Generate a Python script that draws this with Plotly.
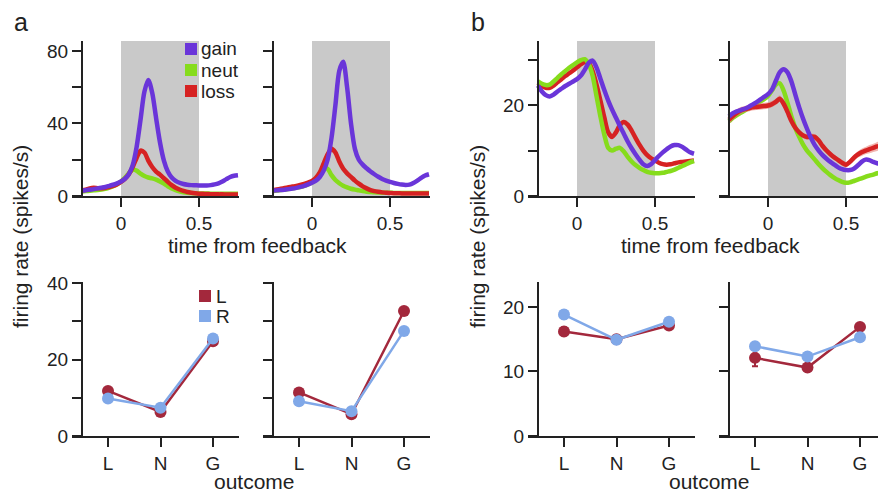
import plotly.graph_objects as go

FONT = "Liberation Sans, Arial, Helvetica, sans-serif"
INK = "#222222"

# ---------------- data ----------------
time_s = [-0.25, -0.225, -0.2, -0.175, -0.15, -0.125, -0.1, -0.075, -0.05, -0.025,
          0.0, 0.025, 0.05, 0.075, 0.1, 0.125, 0.15, 0.175, 0.2, 0.225,
          0.25, 0.275, 0.3, 0.325, 0.35, 0.375, 0.4, 0.425, 0.45, 0.475,
          0.5, 0.525, 0.55, 0.575, 0.6, 0.625, 0.65, 0.675, 0.7, 0.725, 0.75]

# panel a, neuron 1
gain_a1 = [3.0, 3.2, 3.5, 3.8, 4.2, 4.6, 5.0, 5.6, 6.2, 7.0,
           8.0, 9.5, 12.0, 17.0, 27.0, 42.0, 57.5, 64.0, 57.0, 43.0,
           29.5, 19.5, 13.5, 10.2, 8.4, 7.3, 6.6, 6.2, 6.0, 5.9,
           5.8, 5.8, 5.8, 6.0, 6.4, 7.0, 8.0, 9.3, 10.5, 11.2, 11.5]
neut_a1 = [2.5, 2.7, 2.9, 3.1, 3.3, 3.6, 4.0, 4.6, 5.4, 6.5,
           8.0, 10.0, 12.5, 14.5, 14.0, 12.3, 11.0, 10.2, 9.7, 9.0,
           8.0, 6.8, 5.4, 4.2, 3.3, 2.6, 2.1, 1.8, 1.6, 1.5,
           1.4, 1.4, 1.4, 1.3, 1.3, 1.3, 1.3, 1.3, 1.3, 1.3, 1.3]
loss_a1 = [3.0, 3.5, 4.2, 4.5, 4.3, 4.3, 4.6, 5.0, 5.6, 6.5,
           7.8, 9.5, 12.0, 16.0, 21.0, 25.0, 24.0, 19.5, 16.0, 13.5,
           11.8, 9.8, 7.8, 6.0, 4.6, 3.6, 2.8, 2.2, 1.8, 1.5,
           1.3, 1.2, 1.1, 1.0, 1.0, 0.9, 0.9, 0.8, 0.8, 0.8, 0.8]

# panel a, neuron 2
gain_a2 = [3.0, 3.1, 3.3, 3.5, 3.8, 4.1, 4.5, 5.0, 5.6, 6.4,
           7.3, 8.5, 10.5, 14.0, 20.0, 32.0, 50.0, 69.0, 74.0, 60.0,
           40.0, 26.0, 20.0, 17.3, 15.3, 13.5, 12.0, 10.6, 9.4, 8.5,
           7.8, 7.2, 6.7, 6.3, 6.1, 6.3, 7.2, 8.5, 10.0, 11.3, 12.0]
neut_a2 = [2.8, 3.0, 3.3, 3.5, 3.8, 4.2, 4.6, 5.0, 5.6, 6.4,
           7.5, 9.5, 12.5, 15.3, 15.0, 11.5, 8.8, 7.0, 5.6, 4.7,
           4.0, 3.5, 3.1, 2.7, 2.4, 2.2, 2.0, 1.9, 1.8, 1.8,
           1.8, 1.7, 1.7, 1.7, 1.6, 1.6, 1.6, 1.6, 1.6, 1.6, 1.6]
loss_a2 = [3.2, 3.6, 4.0, 4.4, 4.8, 5.2, 5.6, 6.1, 6.7, 7.4,
           8.3, 10.0, 13.0, 18.0, 23.0, 26.0, 24.0, 19.0, 15.0, 12.5,
           10.5, 8.5, 6.8, 5.3, 4.2, 3.3, 2.7, 2.3, 2.0, 1.8,
           1.6, 1.5, 1.5, 1.4, 1.4, 1.4, 1.4, 1.4, 1.4, 1.4, 1.4]

# panel b, neuron 1
gain_b1 = [24.3, 23.0, 22.2, 21.9, 22.3, 23.0, 23.6, 24.2, 24.7, 25.2,
           25.7, 26.5, 27.8, 29.3, 29.8, 28.3, 25.8, 23.3, 21.0, 19.0,
           17.2, 15.4, 13.7, 12.0, 10.5, 9.2, 8.0, 7.0, 6.6, 7.0,
           7.9, 8.8, 9.6, 10.3, 10.9, 11.2, 11.2, 10.8, 10.2, 9.6, 9.3]
neut_b1 = [25.2, 24.7, 24.4, 24.5, 25.2, 26.0, 26.8, 27.5, 28.2, 28.8,
           29.4, 29.9, 30.1, 29.0, 26.5, 22.0, 17.5, 13.5, 10.6, 10.0,
           10.4, 10.6, 9.8, 8.6, 7.6, 6.8, 6.2, 5.7, 5.3, 5.1,
           5.0, 5.0, 5.1, 5.3, 5.5, 5.8, 6.2, 6.6, 7.0, 7.4, 7.7]
loss_b1 = [24.9, 24.2, 23.8, 23.8, 24.3, 25.0, 25.7, 26.4, 27.0, 27.6,
           28.3, 29.0, 29.5, 29.3, 27.5, 24.5, 21.0, 17.3, 14.0, 13.0,
           14.0, 15.6, 16.3, 15.7, 14.4, 12.8, 11.3, 10.0, 9.0, 8.3,
           7.8, 7.3, 7.0, 6.9, 7.0, 7.2, 7.4, 7.5, 7.6, 7.7, 7.8]

# panel b, neuron 2
gain_b2 = [17.5, 18.2, 18.6, 18.9, 19.2, 19.6, 20.1, 20.6, 21.2, 21.8,
           22.4, 23.4, 25.3, 27.2, 27.9, 27.2, 25.2, 22.3, 19.5, 17.0,
           14.8, 12.8, 11.2, 10.0, 9.0, 8.2, 7.5, 6.9, 6.3, 5.9,
           5.7, 5.7, 6.0, 6.7, 7.5, 8.0, 7.9, 7.5, 7.2, 7.0, 7.0]
neut_b2 = [16.4, 17.2, 17.8, 18.3, 18.8, 19.3, 19.8, 20.3, 20.8, 21.3,
           22.0, 23.2, 24.5, 24.8, 23.2, 20.5, 17.5, 15.0, 13.0, 11.3,
           10.0, 9.0, 8.0, 7.0, 6.1, 5.3, 4.6, 4.0, 3.5, 3.1,
           2.9, 3.0, 3.3, 3.6, 3.9, 4.2, 4.5, 4.7, 5.0, 5.2, 5.4]
loss_b2 = [16.8, 17.6, 18.3, 18.8, 19.1, 19.3, 19.5, 19.6, 19.7, 19.8,
           19.9, 20.2, 20.7, 21.4, 20.3, 18.5, 16.5, 15.0, 14.0, 13.3,
           13.0, 13.1, 13.0, 12.2, 11.0, 10.0, 9.2, 8.5, 7.9, 7.3,
           6.9, 7.5, 8.4, 9.1, 9.6, 10.0, 10.3, 10.6, 10.9, 11.1, 11.3]
loss_b2_sem = [1.0, 0.9, 0.8, 0.8, 0.7, 0.7, 0.7, 0.7, 0.7, 0.7,
               0.7, 0.7, 0.7, 0.7, 0.7, 0.7, 0.6, 0.6, 0.6, 0.6,
               0.6, 0.6, 0.6, 0.6, 0.6, 0.6, 0.6, 0.6, 0.6, 0.6,
               0.6, 0.6, 0.7, 0.7, 0.8, 0.8, 0.9, 0.9, 1.0, 1.0, 1.1]

outcomes = ["L", "N", "G"]
left_a1 = [11.8, 6.3, 24.8]
right_a1 = [9.8, 7.4, 25.5]
left_a2 = [11.4, 5.7, 32.7]
right_a2 = [9.1, 6.5, 27.5]
left_b1 = [16.2, 15.0, 17.1]
left_b1_err = [0.6, 0.4, 0.5]
right_b1 = [18.8, 14.9, 17.7]
right_b1_err = [0.6, 0.4, 0.5]
left_b2 = [12.1, 10.6, 16.9]
left_b2_err = [1.3, 0.5, 0.5]
right_b2 = [13.9, 12.3, 15.3]
right_b2_err = [0.6, 0.4, 0.4]

# ---------------- styling ----------------
W, H = 878, 494
C_GAIN = "#6a35d9"
C_NEUT = "#86dc1c"
C_LOSS = "#d62222"
C_L = "#a3283c"
C_R = "#80a8e8"
C_SHADE = "#c9c9c9"


def fx(px):
    return px / W


def fy(py):
    return 1 - py / H


TOP_DOM = [fy(196), fy(41)]
BOT_DOM = [fy(436), fy(282)]
T_SCALE = 156.0   # px per second
C_SCALE = 52.5    # px per category

axis_common = dict(showline=True, linecolor=INK, linewidth=2, ticks="outside",
                   ticklen=9, tickwidth=2, tickcolor=INK, showgrid=False,
                   zeroline=False, fixedrange=True, automargin=False,
                   tickfont=dict(size=19, color=INK, family=FONT))

fig = go.Figure()
layout_axes = {}
shapes = []

# y-axis pixel positions of the four columns
col_axis_px = [82, 273, 538, 729]


def axis_names(i):
    return ("x" if i == 1 else f"x{i}", "y" if i == 1 else f"y{i}")


def set_axes(i, yax_px, top, yrange, ymajor, yminor, show_labels):
    left_px = yax_px - 10
    right_px = min(left_px + 167, W)
    width = right_px - left_px
    xn, yn = axis_names(i)
    xkey = "xaxis" if i == 1 else f"xaxis{i}"
    ykey = "yaxis" if i == 1 else f"yaxis{i}"
    if top:
        x0 = -0.25 - 10 / T_SCALE
        xr = [x0, x0 + width / T_SCALE]
        xa = dict(axis_common, domain=[fx(left_px), fx(right_px)], range=xr,
                  anchor=yn, tickmode="array", tickvals=[0, 0.5],
                  ticktext=["0", "0.5"])
        dom = TOP_DOM
    else:
        x0 = -36 / C_SCALE
        xr = [x0, x0 + width / C_SCALE]
        xa = dict(axis_common, domain=[fx(left_px), fx(right_px)], range=xr,
                  anchor=yn, type="category", categoryorder="array",
                  categoryarray=outcomes)
        dom = BOT_DOM
    ya = dict(axis_common, domain=dom, range=yrange, anchor="free",
              position=fx(yax_px), tickmode="linear", tick0=0, dtick=ymajor,
              showticklabels=show_labels)
    if yminor:
        ya["minor"] = dict(ticks="outside", ticklen=9, tickwidth=2,
                           tickcolor=INK, tick0=0, dtick=yminor, showgrid=False)
    layout_axes[xkey] = xa
    layout_axes[ykey] = ya
    return xn, yn


def add_psth(i, series_list, sem=None):
    xn, yn = axis_names(i)
    shapes.append(dict(type="rect", xref=xn, yref=f"{yn} domain", x0=0, x1=0.5,
                       y0=0, y1=1, fillcolor=C_SHADE, line=dict(width=0),
                       layer="below"))
    for vals, col, name in series_list:
        if sem is not None and name == "loss":
            up = [v + s for v, s in zip(vals, sem)]
            lo = [v - s for v, s in zip(vals, sem)]
            fig.add_trace(go.Scatter(x=time_s, y=up, mode="lines",
                                     line=dict(width=0, shape="spline"),
                                     xaxis=xn, yaxis=yn, showlegend=False,
                                     hoverinfo="skip"))
            fig.add_trace(go.Scatter(x=time_s, y=lo, mode="lines",
                                     line=dict(width=0, shape="spline"),
                                     fill="tonexty",
                                     fillcolor="rgba(232,120,110,0.55)",
                                     xaxis=xn, yaxis=yn, showlegend=False,
                                     hoverinfo="skip"))
        fig.add_trace(go.Scatter(x=time_s, y=vals, mode="lines", name=name,
                                 line=dict(color=col, width=4.5, shape="spline",
                                           smoothing=0.8),
                                 xaxis=xn, yaxis=yn, showlegend=False))


def add_outcome(i, left, right, lerr=None, rerr=None):
    xn, yn = axis_names(i)
    for vals, err, col, name in [(left, lerr, C_L, "L"), (right, rerr, C_R, "R")]:
        fig.add_trace(go.Scatter(
            x=outcomes, y=vals, mode="lines+markers", name=name,
            line=dict(color=col, width=2.5),
            marker=dict(color=col, size=12),
            error_y=dict(type="data", array=err, color=col, thickness=2,
                         width=3, visible=err is not None),
            xaxis=xn, yaxis=yn, showlegend=False))


# top row
set_axes(1, col_axis_px[0], True, [0, 85.5], 40, 20, True)
set_axes(2, col_axis_px[1], True, [0, 85.5], 40, 20, False)
set_axes(3, col_axis_px[2], True, [0, 34.1], 20, 10, True)
set_axes(4, col_axis_px[3], True, [0, 34.1], 20, 10, False)
# bottom row
set_axes(5, col_axis_px[0], False, [0, 40.3], 20, 10, True)
set_axes(6, col_axis_px[1], False, [0, 40.3], 20, 10, False)
set_axes(7, col_axis_px[2], False, [0, 23.85], 10, None, True)
set_axes(8, col_axis_px[3], False, [0, 23.85], 10, None, False)

add_psth(1, [(neut_a1, C_NEUT, "neut"), (loss_a1, C_LOSS, "loss"), (gain_a1, C_GAIN, "gain")])
add_psth(2, [(neut_a2, C_NEUT, "neut"), (loss_a2, C_LOSS, "loss"), (gain_a2, C_GAIN, "gain")])
add_psth(3, [(loss_b1, C_LOSS, "loss"), (neut_b1, C_NEUT, "neut"), (gain_b1, C_GAIN, "gain")])
add_psth(4, [(neut_b2, C_NEUT, "neut"), (loss_b2, C_LOSS, "loss"), (gain_b2, C_GAIN, "gain")],
         sem=loss_b2_sem)

add_outcome(5, left_a1, right_a1)
add_outcome(6, left_a2, right_a2)
add_outcome(7, left_b1, right_b1, left_b1_err, right_b1_err)
add_outcome(8, left_b2, right_b2, left_b2_err, right_b2_err)

# ---------------- text ----------------
annotations = []


def txt(text, xpx, ypx, size, xanchor="center", yanchor="middle", angle=0):
    annotations.append(dict(text=text, x=fx(xpx), y=fy(ypx), xref="paper",
                            yref="paper", xanchor=xanchor, yanchor=yanchor,
                            showarrow=False, textangle=angle, borderpad=0,
                            font=dict(size=size, color=INK, family=FONT)))


txt("a", 21, 22, 25)
txt("b", 478, 22, 25)
txt("time from feedback", 257, 246, 21)
txt("time from feedback", 710, 246, 21)
txt("outcome", 254, 494, 21, yanchor="bottom")
txt("outcome", 709, 494, 21, yanchor="bottom")
txt("firing rate (spikes/s)", 21, 237, 21, angle=-90)
txt("firing rate (spikes/s)", 478, 237, 21, angle=-90)

# legend for PSTHs
for label, col, ypx in [("gain", C_GAIN, 49), ("neut", C_NEUT, 70), ("loss", C_LOSS, 91)]:
    shapes.append(dict(type="rect", xref="paper", yref="paper",
                       x0=fx(185), x1=fx(197), y0=fy(ypx + 6), y1=fy(ypx - 6),
                       fillcolor=col, line=dict(width=0)))
    txt(label, 200, ypx, 19, xanchor="left")

# legend for outcome plots
for label, col, ypx in [("L", C_L, 296), ("R", C_R, 316)]:
    shapes.append(dict(type="rect", xref="paper", yref="paper",
                       x0=fx(199), x1=fx(211), y0=fy(ypx + 6), y1=fy(ypx - 6),
                       fillcolor=col, line=dict(width=0)))
    txt(label, 215, ypx, 19, xanchor="left")

fig.update_layout(width=W, height=H, margin=dict(l=0, r=0, t=0, b=0, pad=0),
                  autosize=False, template="none",
                  paper_bgcolor="white", plot_bgcolor="rgba(0,0,0,0)",
                  showlegend=False, shapes=shapes, annotations=annotations,
                  font=dict(family=FONT, color=INK), **layout_axes)

fig.write_html("out.html")
